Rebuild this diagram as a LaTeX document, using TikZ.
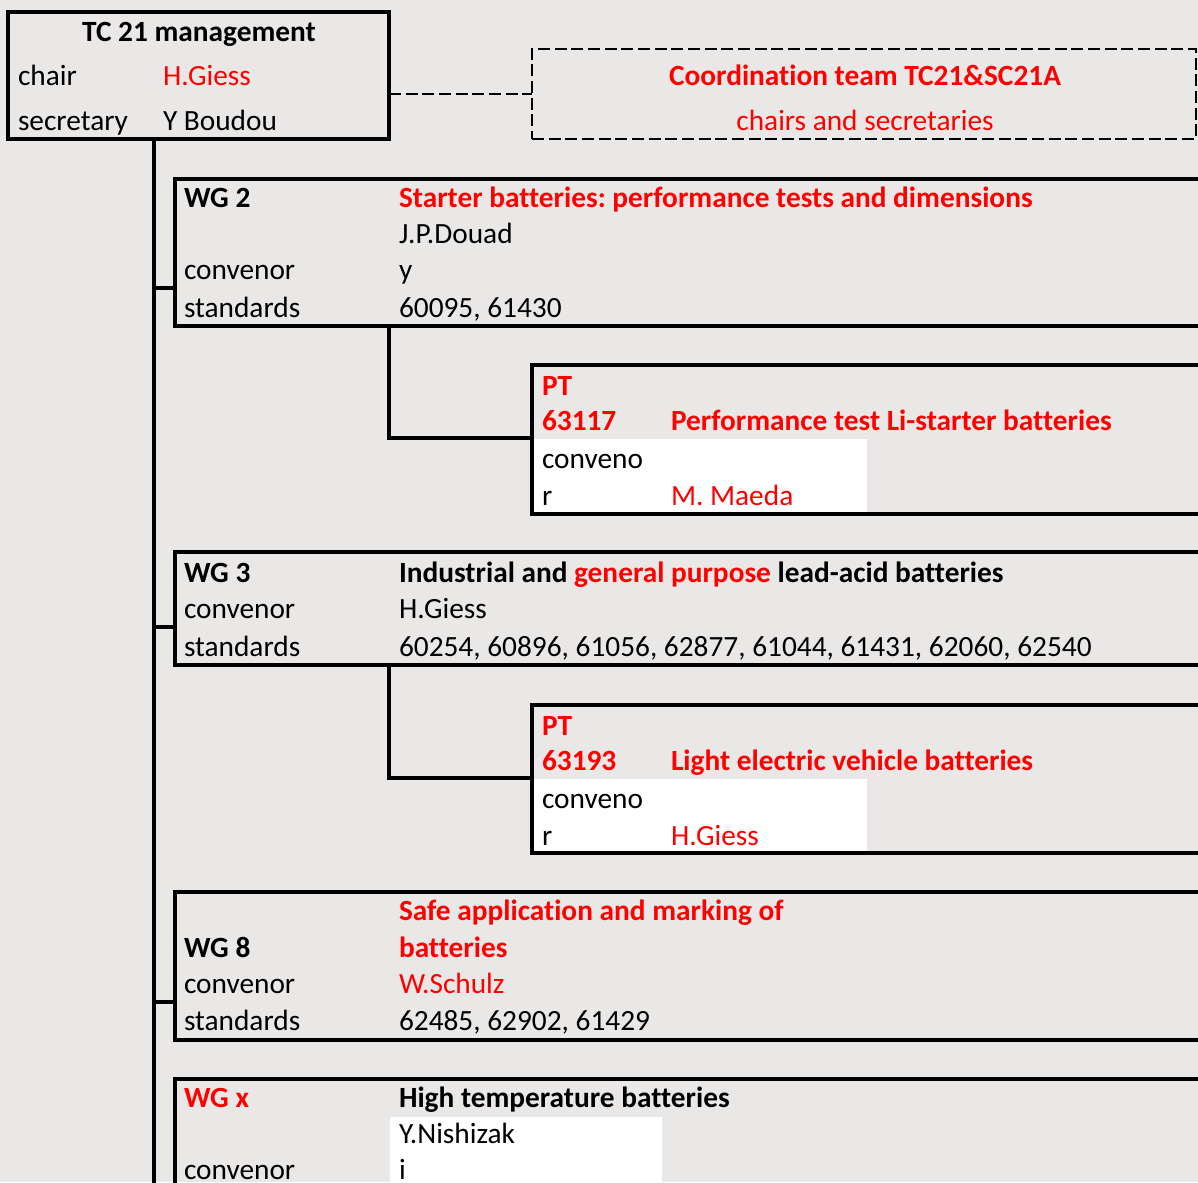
\documentclass[tikz,border=0pt]{standalone}
\usepackage{fontspec}
\setmainfont{Carlito}[Ligatures=CommonOff]
\usetikzlibrary{fit}
\definecolor{sheet}{RGB}{234,232,230}
\definecolor{ired}{RGB}{255,0,0}
\frenchspacing

\begin{document}
\begin{tikzpicture}[x=0.75pt,y=-0.75pt,
                    every node/.style={inner sep=0pt,
                      outer sep=0pt,
                      font=\fontsize{22}{26}\selectfont},
                    frame/.style={draw,line width=2.5pt,fit={#1}},
                    dashframe/.style={draw,line width=2.2pt,
                      dash pattern=on 9pt off 3.5pt,fit={#1}},
                    txt/.style={anchor=base west},
                    head/.style={anchor=base west,
                      font=\fontsize{22}{26}\selectfont\bfseries},
                    link/.style={line width=2.5pt}]
\useasboundingbox (0,0) rectangle (1198,1182);
\clip (0,0) rectangle (1198,1182);
\fill[sheet] (0,0) rectangle (1198,1182);
% white cells
\fill[white] (534,439) rectangle (867,513);
\fill[white] (534,779) rectangle (867,852);
\fill[white] (390,1117) rectangle (662,1190);
% boxes
\node (tc) [frame={(8,12) (389,139)}] {};
\node (coord) [dashframe={(532,49) (1196,139)}] {};
\node (wg2) [frame={(175,179) (1215,326)}] {};
\node (pt1) [frame={(532,365) (1215,514)}] {};
\node (wg3) [frame={(175,552) (1215,665)}] {};
\node (pt2) [frame={(532,705) (1215,853)}] {};
\node (wg8) [frame={(175,892) (1215,1040)}] {};
\node (wgx) [frame={(175,1079) (1215,1230)}] {};
% TC 21
\node (tc-title) [anchor=base,font=\fontsize{22}{26}\selectfont\bfseries] at (199,41) {TC 21 management};
\node (tc-chair) [txt] at (18,85) {chair};
\node (tc-chairname) [txt,text=ired] at (163,85) {H.Giess};
\node (tc-sec) [txt] at (18,130) {secretary};
\node (tc-secname) [txt] at (163,130) {Y Boudou};
\node (coord-title) [anchor=base,text=ired,font=\fontsize{22}{26}\selectfont\bfseries] at (865,85) {Coordination team TC21\&SC21A};
\node (coord-sub) [anchor=base,text=ired] at (865,130) {chairs and secretaries};
% WG 2
\node (wg2-id) [head] at (184,207) {WG 2};
\node (wg2-title) [head,text=ired] at (399,207) {Starter batteries: performance tests and dimensions};
\node (wg2-name1) [txt] at (399,243) {J.P.Douad};
\node (wg2-conv) [txt] at (184,279) {convenor};
\node (wg2-name2) [txt] at (399,279) {y};
\node (wg2-std) [txt] at (184,317) {standards};
\node (wg2-nums) [txt] at (399,317) {60095, 61430};
% PT 63117
\node (pt1-id) [head,text=ired] at (542,395) {PT};
\node (pt1-num) [head,text=ired] at (542,430) {63117};
\node (pt1-title) [head,text=ired] at (671,430) {Performance test Li-starter batteries};
\node (pt1-conv1) [txt] at (542,468) {conveno};
\node (pt1-conv2) [txt] at (542,505) {r};
\node (pt1-name) [txt,text=ired] at (671,505) {M. Maeda};
% WG 3
\node (wg3-id) [head] at (184,582) {WG 3};
\node (wg3-title) [head] at (399,582) {Industrial and \textcolor{ired}{general purpose} lead-acid batteries};
\node (wg3-conv) [txt] at (184,618) {convenor};
\node (wg3-name) [txt] at (399,618) {H.Giess};
\node (wg3-std) [txt] at (184,656) {standards};
\node (wg3-nums) [txt] at (399,656) {60254, 60896, 61056, 62877, 61044, 61431, 62060, 62540};
% PT 63193
\node (pt2-id) [head,text=ired] at (542,735) {PT};
\node (pt2-num) [head,text=ired] at (542,770) {63193};
\node (pt2-title) [head,text=ired] at (671,770) {Light electric vehicle batteries};
\node (pt2-conv1) [txt] at (542,808) {conveno};
\node (pt2-conv2) [txt] at (542,845) {r};
\node (pt2-name) [txt,text=ired] at (671,845) {H.Giess};
% WG 8
\node (wg8-title1) [head,text=ired] at (399,920) {Safe application and marking of};
\node (wg8-title2) [head,text=ired] at (399,957) {batteries};
\node (wg8-id) [head] at (184,957) {WG 8};
\node (wg8-conv) [txt] at (184,993) {convenor};
\node (wg8-name) [txt,text=ired] at (399,993) {W.Schulz};
\node (wg8-std) [txt] at (184,1030) {standards};
\node (wg8-nums) [txt] at (399,1030) {62485, 62902, 61429};
% WG x
\node (wgx-id) [head,text=ired] at (184,1107) {WG x};
\node (wgx-title) [head] at (399,1107) {High temperature batteries};
\node (wgx-name1) [txt] at (399,1143) {Y.Nishizak};
\node (wgx-conv) [txt] at (184,1179) {convenor};
\node (wgx-name2) [txt] at (399,1179) {i};
% connectors
\coordinate (top) at (154,139);
\coordinate (bottom) at (154,1190);
\coordinate (j2) at (154,288);
\coordinate (j3) at (154,627);
\coordinate (j8) at (154,1002);
\coordinate (s2) at (389,438);
\coordinate (s3) at (389,778);
\draw[line width=2.2pt,dash pattern=on 9pt off 3.5pt] (tc.east |- 0,94) -- (coord.west |- 0,94);
\draw[link] (top) -- (bottom);
\draw[link] (j2) -- (j2 -| wg2.west);
\draw[link] (j3) -- (j3 -| wg3.west);
\draw[link] (j8) -- (j8 -| wg8.west);
\draw[link] (s2 |- wg2.south) -- (s2) -- (s2 -| pt1.west);
\draw[link] (s3 |- wg3.south) -- (s3) -- (s3 -| pt2.west);
\end{tikzpicture}
\end{document}
